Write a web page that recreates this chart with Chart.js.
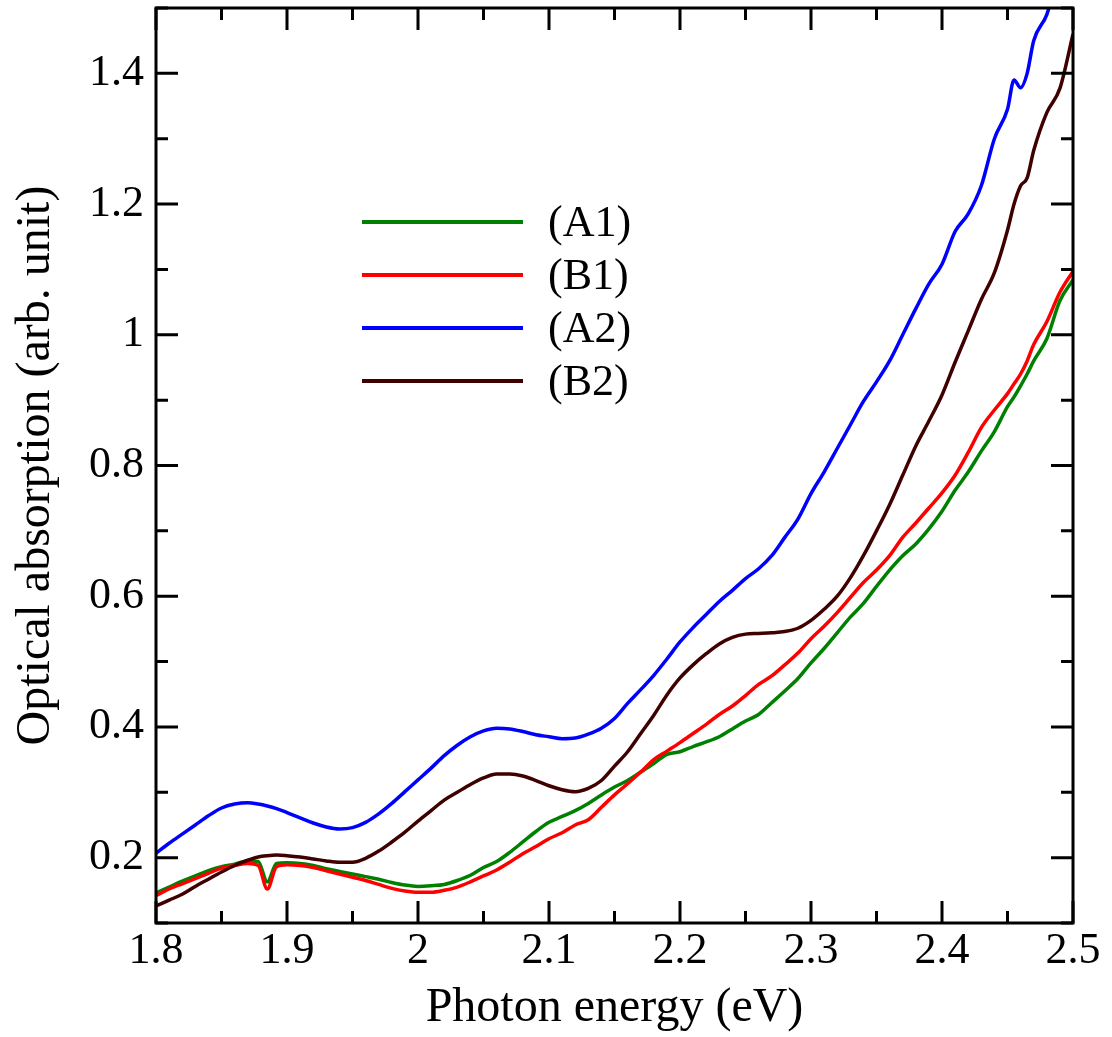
<!DOCTYPE html>
<html>
<head>
<meta charset="utf-8">
<script src="https://cdn.jsdelivr.net/npm/chart.js@4"></script>
<style>
  html, body { margin: 0; padding: 0; background: #fff; }
  #wrap { width: 1112px; height: 1037px; }
</style>
</head>
<body>
<div id="wrap"><canvas id="myChart" width="1112" height="1037"></canvas></div>
<script>
// photon energy (eV), shared by all four curves
var energy = [1.80,1.81,1.82,1.83,1.84,1.85,1.86,1.87,1.878,1.885,1.892,
  1.90,1.91,1.92,1.93,1.94,1.95,1.96,1.97,1.98,1.99,
  2.00,2.01,2.02,2.03,2.04,2.05,2.06,2.07,2.08,2.09,
  2.10,2.11,2.12,2.13,2.14,2.15,2.16,2.17,2.18,2.19,
  2.20,2.21,2.22,2.23,2.24,2.25,2.26,2.27,2.28,2.29,
  2.30,2.31,2.32,2.33,2.34,2.35,2.36,2.37,2.38,2.39,
  2.40,2.41,2.42,2.43,2.44,2.45,2.455,2.46,2.465,2.47,2.48,2.49,2.50];

var absA1 = [0.146,0.155,0.164,0.172,0.180,0.186,0.190,0.195,0.194,0.163,0.191,
  0.192,0.191,0.188,0.183,0.179,0.175,0.171,0.167,0.162,0.158,
  0.156,0.157,0.159,0.165,0.173,0.185,0.194,0.208,0.224,0.240,
  0.254,0.263,0.272,0.283,0.296,0.308,0.318,0.331,0.344,0.358,
  0.362,0.370,0.377,0.385,0.397,0.409,0.419,0.437,0.455,0.474,
  0.498,0.520,0.544,0.568,0.589,0.615,0.640,0.662,0.680,0.703,
  0.730,0.762,0.790,0.822,0.852,0.890,0.905,0.922,0.940,0.960,0.994,1.052,1.084];

var absB1 = [0.142,0.152,0.160,0.168,0.176,0.184,0.188,0.191,0.188,0.152,0.186,
  0.189,0.188,0.185,0.180,0.175,0.170,0.165,0.159,0.153,0.149,
  0.147,0.147,0.150,0.155,0.163,0.172,0.181,0.193,0.206,0.217,
  0.229,0.238,0.250,0.258,0.277,0.296,0.313,0.331,0.350,0.363,
  0.376,0.390,0.404,0.419,0.432,0.448,0.465,0.478,0.495,0.513,
  0.535,0.554,0.575,0.598,0.621,0.640,0.662,0.690,0.712,0.735,
  0.758,0.785,0.820,0.858,0.885,0.910,0.925,0.940,0.960,0.985,1.020,1.065,1.097];

var absA2 = [0.207,0.222,0.236,0.250,0.264,0.276,0.282,0.284,0.282,0.279,0.275,
  0.269,0.261,0.253,0.247,0.244,0.246,0.254,0.267,0.283,0.301,
  0.319,0.337,0.356,0.372,0.385,0.394,0.398,0.397,0.393,0.388,
  0.385,0.382,0.383,0.389,0.398,0.413,0.436,0.457,0.479,0.504,
  0.530,0.552,0.572,0.592,0.609,0.627,0.642,0.662,0.690,0.718,
  0.757,0.790,0.826,0.862,0.898,0.928,0.960,1.000,1.040,1.078,
  1.108,1.158,1.185,1.228,1.300,1.345,1.390,1.378,1.400,1.450,1.490,1.560,1.620];

var absB2 = [0.126,0.135,0.144,0.156,0.167,0.178,0.188,0.196,0.201,0.203,0.204,
  0.203,0.201,0.198,0.195,0.193,0.193,0.199,0.210,0.224,0.239,
  0.256,0.272,0.288,0.300,0.312,0.322,0.328,0.328,0.325,0.318,
  0.310,0.304,0.301,0.306,0.318,0.340,0.362,0.390,0.418,0.449,
  0.475,0.495,0.512,0.527,0.537,0.542,0.543,0.544,0.546,0.551,
  0.563,0.580,0.600,0.628,0.662,0.700,0.740,0.785,0.830,0.868,
  0.908,0.958,1.006,1.054,1.095,1.160,1.200,1.228,1.240,1.282,1.340,1.377,1.460];

var seriesNames = ['(A1)', '(B1)', '(A2)', '(B2)'];
var seriesColors = ['#008000', '#ff0000', '#0000ff', '#400000'];
var xTicks = [1.8, 1.9, 2.0, 2.1, 2.2, 2.3, 2.4, 2.5];
var yTicks = [0.2, 0.4, 0.6, 0.8, 1.0, 1.2, 1.4];

function pts(vals) {
    return energy.map(function(e, i) { return {x: e, y: vals[i]}; });
}
function fmt(v) { return String(+v.toFixed(2)); }

var allSeries = [absA1, absB1, absA2, absB2];
var drawOrder = [4, 3, 2, 1];
var graphData = {
    datasets: allSeries.map(function(s, i) {
        return {
            label: seriesNames[i],
            data: pts(s),
            borderColor: seriesColors[i],
            borderWidth: 3.5,
            pointRadius: 0,
            cubicInterpolationMode: 'monotone',
            fill: false,
            order: drawOrder[i]
        };
    })
};

// white page, box frame and inward ticks on all four sides
var frame = {
    id: 'frame',
    beforeDraw: function(chart) {
        var c = chart.ctx;
        c.save();
        c.fillStyle = '#fff';
        c.fillRect(0, 0, chart.width, chart.height);
        c.restore();
    },
    afterDraw: function(chart) {
        var c = chart.ctx, a = chart.chartArea;
        var xs = chart.scales.x, ys = chart.scales.y;
        c.save();
        c.strokeStyle = '#000';
        c.lineWidth = 3;
        c.strokeRect(a.left, a.top, a.right - a.left, a.bottom - a.top);
        function xt(v, len) {
            var p = xs.getPixelForValue(v);
            c.beginPath();
            c.moveTo(p, a.bottom); c.lineTo(p, a.bottom - len);
            c.moveTo(p, a.top); c.lineTo(p, a.top + len);
            c.stroke();
        }
        function yt(v, len) {
            var p = ys.getPixelForValue(v);
            c.beginPath();
            c.moveTo(a.left, p); c.lineTo(a.left + len, p);
            c.moveTo(a.right, p); c.lineTo(a.right - len, p);
            c.stroke();
        }
        xTicks.forEach(function(v, i) {
            xt(v, 22);
            if (i < xTicks.length - 1) xt((v + xTicks[i + 1]) / 2, 12);
        });
        yTicks.forEach(function(v, i) {
            yt(v, 22);
            if (i < yTicks.length - 1) yt((v + yTicks[i + 1]) / 2, 12);
        });
        yt(yTicks[0] - 0.1, 12);
        yt(yTicks[yTicks.length - 1] + 0.1, 12);

        // legend
        c.font = '44px "Liberation Serif"';
        c.textBaseline = 'middle';
        c.textAlign = 'left';
        chart.data.datasets.forEach(function(ds, i) {
            var y = 222 + i * 53;
            c.strokeStyle = ds.borderColor;
            c.lineWidth = 4;
            c.beginPath();
            c.moveTo(362, y); c.lineTo(523, y);
            c.stroke();
            c.fillStyle = '#000';
            c.fillText(ds.label, 548, y + 2);
        });
        c.restore();
    }
};

var ctx = document.getElementById('myChart').getContext('2d');
window.myChart = new Chart(ctx, {
    type: 'line',
    data: graphData,
    plugins: [frame],
    options: {
        responsive: false,
        animation: false,
        layout: { padding: { top: 8, right: 39, left: 0, bottom: 0 } },
        plugins: { legend: { display: false }, tooltip: { enabled: false } },
        scales: {
            x: {
                type: 'linear',
                min: 1.8, max: 2.5,
                afterBuildTicks: function(s) { s.ticks = xTicks.map(function(v) { return {value: v}; }); },
                afterFit: function(s) { s.height = 114; s.paddingLeft = 0; s.paddingRight = 0; },
                grid: { display: false, drawTicks: false },
                border: { display: false },
                ticks: {
                    color: '#000', padding: 2, maxRotation: 0,
                    font: { family: 'Liberation Serif', size: 44 },
                    callback: function(v) { return fmt(v); }
                },
                title: {
                    display: true, text: 'Photon energy (eV)', color: '#000',
                    font: { family: 'Liberation Serif', size: 48 },
                    padding: { top: 0, bottom: 0 }
                }
            },
            y: {
                min: 0.1, max: 1.5,
                afterBuildTicks: function(s) { s.ticks = yTicks.map(function(v) { return {value: v}; }); },
                afterFit: function(s) { s.width = 156; s.paddingTop = 0; s.paddingBottom = 0; },
                grid: { display: false, drawTicks: false },
                border: { display: false },
                ticks: {
                    color: '#000', padding: 12,
                    font: { family: 'Liberation Serif', size: 44 },
                    callback: function(v) { return fmt(v); }
                },
                title: {
                    display: true, text: 'Optical absorption (arb. unit)', color: '#000',
                    font: { family: 'Liberation Serif', size: 48 },
                    padding: { top: 8, bottom: 0 }
                }
            }
        }
    }
});
</script>
</body>
</html>
